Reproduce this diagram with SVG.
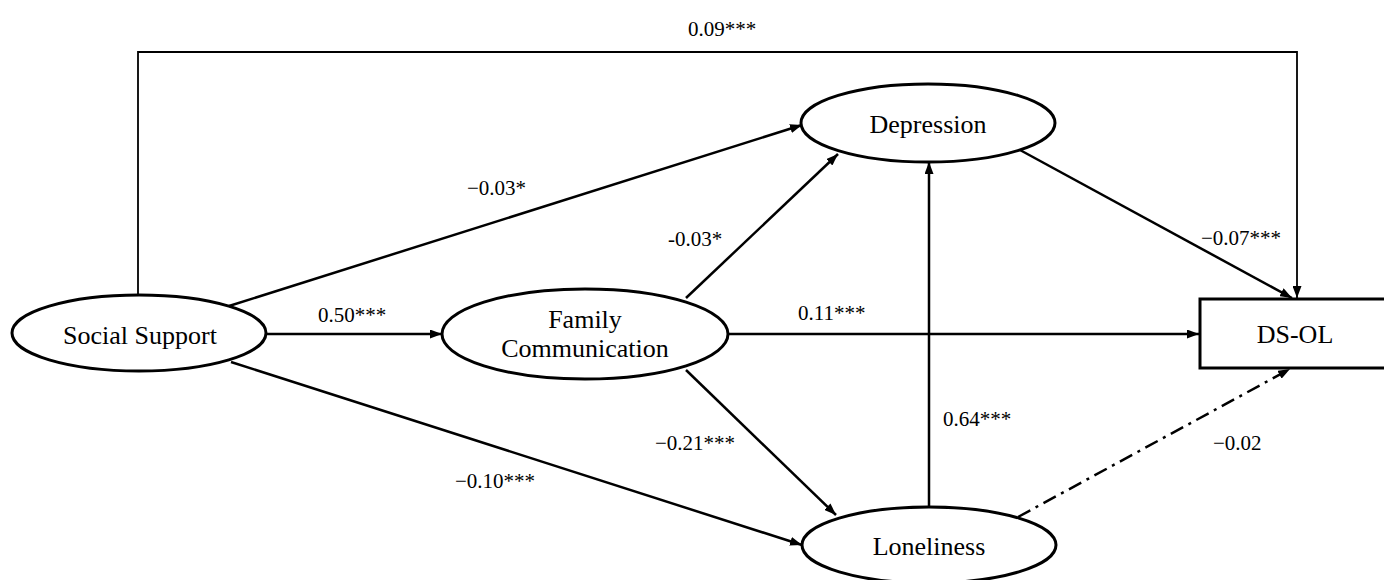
<svg xmlns="http://www.w3.org/2000/svg" width="1384" height="580" viewBox="0 0 1384 580">
  <defs>
    <marker id="arr" viewBox="0 0 12 9" refX="12" refY="4.5" markerWidth="12" markerHeight="9" markerUnits="userSpaceOnUse" orient="auto">
      <path d="M0,0 L12,4.5 L0,9 z" fill="#000"/>
    </marker>
    <style>
      .node { fill: #fff; stroke: #000; stroke-width: 3; }
      .ntext { font-family: "Liberation Serif", "Times New Roman", serif; font-size: 26px; fill: #000; text-anchor: middle; }
      .edge { fill: none; stroke: #000; stroke-width: 2.5; marker-end: url(#arr); }
      .thin { stroke-width: 1.8; }
      .dashdot { stroke-dasharray: 14 6 3 6; }
      .lbl { font-family: "Liberation Serif", "Times New Roman", serif; font-size: 21px; fill: #000; }
    </style>
  </defs>
  <rect width="1384" height="580" fill="#fff"/>

  <g id="connectors">
    <polyline class="edge thin" points="138,295 138,52 1297,52 1297,298"/>
    <line class="edge" x1="229" y1="306" x2="802" y2="125"/>
    <line class="edge" x1="266" y1="334" x2="442" y2="334"/>
    <line class="edge" x1="231" y1="362" x2="802" y2="545"/>
    <line class="edge" x1="686" y1="298" x2="838" y2="154"/>
    <line class="edge" x1="728" y1="334" x2="1199" y2="334"/>
    <line class="edge" x1="686" y1="370" x2="836" y2="515"/>
    <line class="edge" x1="929" y1="507" x2="929" y2="162"/>
    <line class="edge" x1="1020" y1="150" x2="1292" y2="298"/>
    <line class="edge dashdot" x1="1018" y1="517" x2="1290" y2="369"/>
  </g>

  <g id="labels">
    <text class="lbl" x="722" y="36" text-anchor="middle">0.09***</text>
    <text class="lbl" x="467" y="195">−0.03*</text>
    <text class="lbl" x="668" y="246">-0.03*</text>
    <text class="lbl" x="318" y="322">0.50***</text>
    <text class="lbl" x="798" y="320">0.11***</text>
    <text class="lbl" x="655" y="450">−0.21***</text>
    <text class="lbl" x="455" y="488">−0.10***</text>
    <text class="lbl" x="943" y="426">0.64***</text>
    <text class="lbl" x="1201" y="245">−0.07***</text>
    <text class="lbl" x="1213" y="450">−0.02</text>
  </g>

  <g id="social-support">
    <ellipse class="node" cx="139" cy="333" rx="127" ry="38"/>
    <text class="ntext" x="140" y="344">Social Support</text>
  </g>
  <g id="family-communication">
    <ellipse class="node" cx="585" cy="334" rx="143" ry="45"/>
    <text class="ntext" x="585" y="328">Family</text>
    <text class="ntext" x="585" y="357">Communication</text>
  </g>
  <g id="depression">
    <ellipse class="node" cx="928" cy="123" rx="127" ry="39"/>
    <text class="ntext" x="928" y="133">Depression</text>
  </g>
  <g id="loneliness">
    <ellipse class="node" cx="929" cy="545" rx="127" ry="38"/>
    <text class="ntext" x="929" y="555">Loneliness</text>
  </g>
  <g id="ds-ol">
    <rect class="node" x="1200" y="299" width="192" height="69"/>
    <text class="ntext" x="1295" y="343">DS-OL</text>
  </g>
</svg>
